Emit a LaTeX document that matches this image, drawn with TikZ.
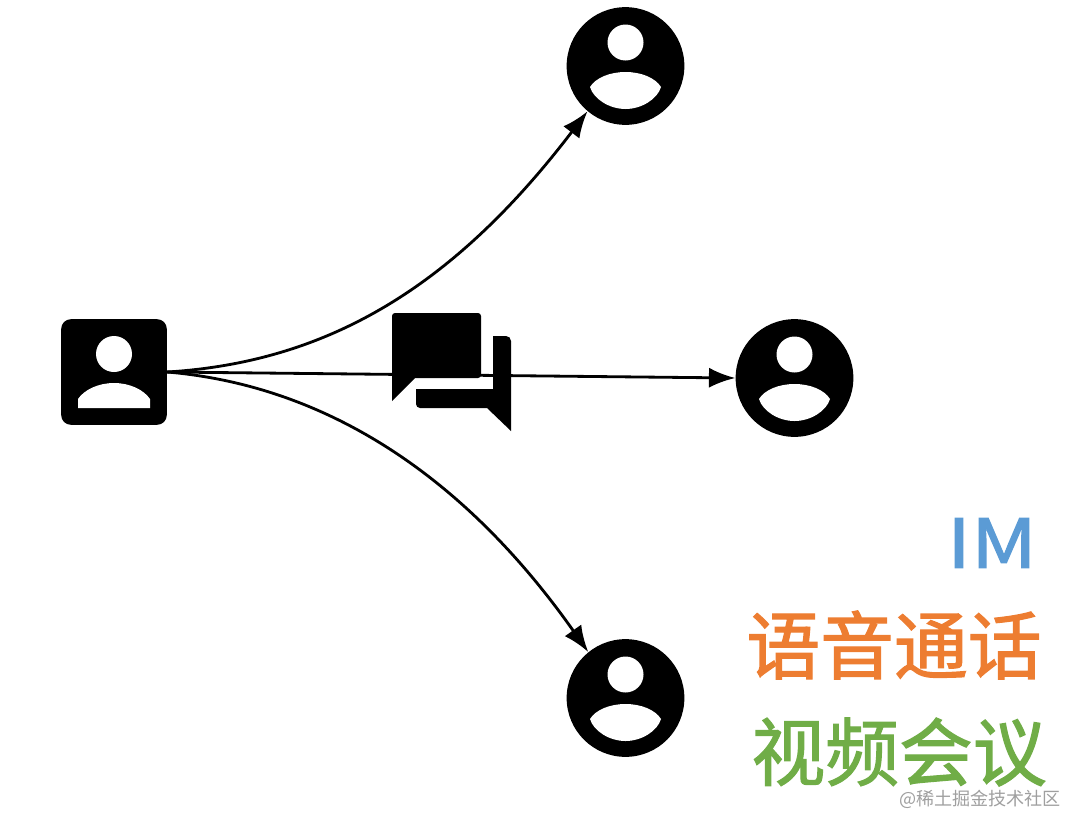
\documentclass[tikz,border=0pt]{standalone}
\usepackage{fontspec}
\newfontfamily\cjk{Noto Sans CJK SC}
\newfontfamily\cjkbold[FakeBold=1.6]{Noto Sans CJK SC}
\usetikzlibrary{arrows.meta}
\definecolor{imblue}{HTML}{5B9BD5}
\definecolor{callorange}{HTML}{ED7D31}
\definecolor{meetgreen}{HTML}{70AD47}
\begin{document}
\begin{tikzpicture}[x=0.02cm, y=-0.02cm,
	sender/.style={fill=black, rectangle, rounded corners=5.5pt, inner sep=0pt, minimum size=60.1pt},
	receiver/.style={fill=black, circle, inner sep=0pt, minimum size=67pt},
	link/.style={black, line width=1.6pt, -{Latex[length=15pt, width=11.5pt]}},
	tag/.style={font=\cjkbold\fontsize{42}{42}\selectfont, inner sep=0pt}]
	\useasboundingbox (0,0) rectangle (1084,832);

	%% Teilnehmer
	\node[sender] (caller) at (114,372) {};
	\node[receiver] (usertop) at (625.5,66) {};
	\node[receiver] (usermid) at (794.5,378) {};
	\node[receiver] (userbot) at (625.5,698) {};

	\fill[white] (114,354) circle (18);
	\fill[white] (78,408) -- (78,399) .. controls (84,390) and (98,383) .. (114,383)
		.. controls (130,383) and (144,390) .. (150,399) -- (150,408) -- cycle;

	\foreach \n in {usertop,usermid,userbot} {
		\begin{scope}[shift={(\n.center)}]
			\fill[white] (0,-23.5) circle (18);
			\fill[white] (-35.5,21) .. controls (-30,12) and (-16,6) .. (0,6)
				.. controls (16,6) and (30,12) .. (35.5,21)
				.. controls (32,33) and (16,43) .. (0,43)
				.. controls (-16,43) and (-32,33) .. cycle;
		\end{scope}
	}

	%% Verbindungen
	\draw[link] (caller.east) .. controls (330,362) and (455,285) .. (usertop.230);
	\draw[link] (caller.east) -- (usermid.west);
	\draw[link] (caller.east) .. controls (320,385) and (460,470) .. (userbot.129);

	%% Chat
	\fill[black] (392,401) -- (392,316) arc (180:270:3) -- (478,313) arc (-90:0:3)
		-- (481,375) arc (0:90:3) -- (415,378) -- cycle;
	\fill[black] (493,389) -- (493,336) -- (506,336) arc (-90:0:5) -- (511,431) -- (487,408)
		-- (420,408) arc (90:180:4) -- (416,389) -- cycle;

	%% Beschriftung
	\node[tag, imblue, font=\cjkbold\fontsize{38.5}{38.5}\selectfont] (labelim) at (992,543) {\scalebox{1.2}[1]{IM}};
	\node[tag, callorange] (labelcall) at (894,645) {语音通话};
	\node[tag, meetgreen] (labelmeet) at (899,752) {视频会议};
	\node[font=\cjk\fontsize{10.3}{10.3}\selectfont, gray!75, inner sep=0pt] (mark) at (980,799) {@稀土掘金技术社区};
\end{tikzpicture}
\end{document}
